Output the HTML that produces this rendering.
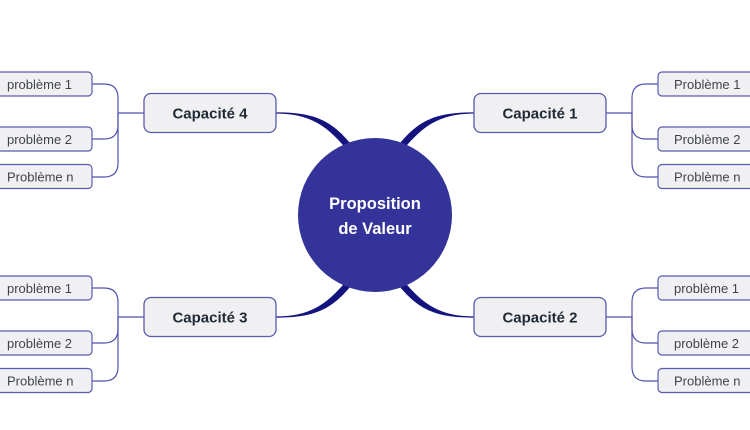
<!DOCTYPE html>
<html><head><meta charset="utf-8"><style>
html,body{margin:0;padding:0;background:#fff;}
svg{display:block;}
text{font-family:"Liberation Sans",sans-serif;}
</style></head><body>
<svg width="750" height="430" viewBox="0 0 750 430" xmlns="http://www.w3.org/2000/svg">
<defs>
<g id="main">
  <path d="M276 112.4 C312 112.4 330 119 350 143 L345 147.5 C326 125 309 113.6 276 113.6 Z" fill="#14147f"/>
  <path d="M349 142 L356 150 L351 154 L344 147 Z" fill="#14147f"/>
</g>
<g id="quad">
  <g fill="none" stroke="#5252ad" stroke-width="1.2">
    <path d="M144 113 H118"/>
    <path d="M118 113 V98 Q118 84 104 84 H92"/>
    <path d="M118 113 V125 Q118 139 104 139 H92"/>
    <path d="M118 113 V163 Q118 177 104 177 H92"/>
  </g>
  <g fill="#f0f0f2" stroke="#5a5ab0" stroke-width="1.2">
    <rect x="-20" y="72" width="112" height="24" rx="4"/>
    <rect x="-20" y="127" width="112" height="24" rx="4"/>
    <rect x="-20" y="164.5" width="112" height="24" rx="4"/>
  </g>
  <rect x="144" y="93.5" width="132" height="39" rx="7" fill="#f0f0f2" stroke="#5a5ab0" stroke-width="1.3"/>
</g>
</defs>

<use href="#main"/>
<use href="#main" transform="translate(750,0) scale(-1,1)"/>
<use href="#main" transform="translate(0,430) scale(1,-1)"/>
<use href="#main" transform="translate(750,430) scale(-1,-1)"/>

<use href="#quad"/>
<use href="#quad" transform="translate(750,0) scale(-1,1)"/>
<use href="#quad" transform="translate(0,204)"/>
<use href="#quad" transform="translate(750,204) scale(-1,1)"/>

<circle cx="375" cy="215" r="77" fill="#33339a"/>
<text x="375" y="209" text-anchor="middle" font-size="16.5" font-weight="bold" fill="#ffffff">Proposition</text>
<text x="375" y="234" text-anchor="middle" font-size="16.5" font-weight="bold" fill="#ffffff">de Valeur</text>

<g font-size="15" font-weight="bold" fill="#1f2a36" text-anchor="middle">
  <text x="210" y="118.5">Capacité 4</text>
  <text x="540" y="118.5">Capacité 1</text>
  <text x="210" y="322.5">Capacité 3</text>
  <text x="540" y="322.5">Capacité 2</text>
</g>

<g font-size="13" fill="#3f4448">
  <text x="7" y="89">problème 1</text>
  <text x="7" y="144">problème 2</text>
  <text x="7" y="181.5">Problème n</text>
  <text x="674" y="89">Problème 1</text>
  <text x="674" y="144">Problème 2</text>
  <text x="674" y="181.5">Problème n</text>
  <text x="7" y="293">problème 1</text>
  <text x="7" y="348">problème 2</text>
  <text x="7" y="385.5">Problème n</text>
  <text x="674" y="293">problème 1</text>
  <text x="674" y="348">problème 2</text>
  <text x="674" y="385.5">Problème n</text>
</g>
</svg>
</body></html>
